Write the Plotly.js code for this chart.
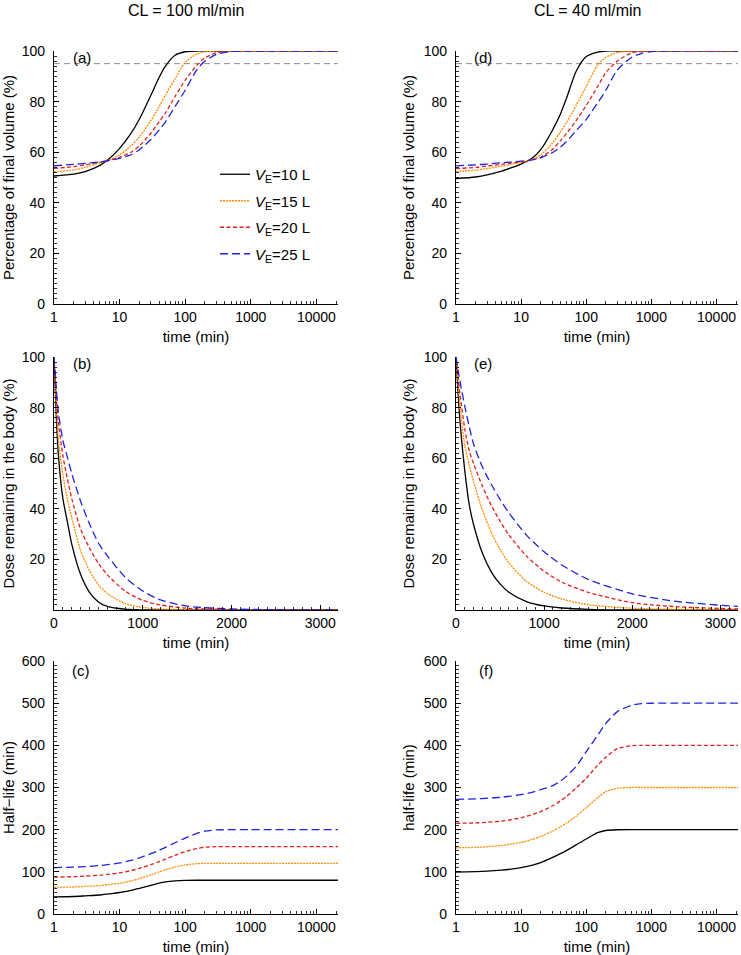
<!DOCTYPE html>
<html><head><meta charset="utf-8">
<script src="https://cdn.plot.ly/plotly-3.0.1.min.js"></script>
<style>html,body{margin:0;padding:0;background:#fff}#chart{width:741px;height:955px}</style>
</head><body><div id="chart"></div>
<script>
// ---------- data ----------
const seriesNames = ['<i>V</i><sub>E</sub>=10 L', '<i>V</i><sub>E</sub>=15 L', '<i>V</i><sub>E</sub>=20 L', '<i>V</i><sub>E</sub>=25 L'];
const columnTitles = ['CL = 100 ml/min', 'CL = 40 ml/min'];
const panelLabels = ['(a)', '(b)', '(c)', '(d)', '(e)', '(f)'];
const threshold = 95;

// time points for log-time panels (min)
const tLog = [1, 2, 3, 5, 7, 10, 15, 20, 30, 40, 50, 70, 100, 150, 200, 300, 500, 700, 1000, 2000, 22000];
// time points for linear-time panels (min)
const tLin = [0, 25, 50, 100, 150, 200, 300, 400, 500, 600, 800, 1000, 1200, 1500, 2000, 2500, 3200];

// (a) CL=100, percentage of final volume
const a_V10 = [50.6, 51.3, 52.3, 54.8, 57.5, 61.5, 67.5, 73, 82.5, 89.5, 94, 98.3, 99.7, 100, 100, 100, 100, 100, 100, 100, 100];
const a_V15 = [52.2, 53, 54, 55.8, 57, 59, 62.5, 66, 72.5, 78, 82.5, 89, 95.5, 98.8, 99.7, 100, 100, 100, 100, 100, 100];
const a_V20 = [53.6, 54.3, 55, 56, 56.8, 58, 60, 62.5, 67.5, 72, 75.5, 82, 88.5, 94.3, 97.3, 99.3, 100, 100, 100, 100, 100];
const a_V25 = [54.6, 55.2, 55.6, 56.2, 56.8, 57.6, 59, 61, 65, 68.7, 72, 78, 84.5, 92.5, 96, 98.7, 99.8, 100, 100, 100, 100];

// (b) CL=100, dose remaining
const b_V10 = [100, 77, 61, 44, 35, 26, 14, 7, 3.2, 1.4, 0.3, 0.05, 0, 0, 0, 0, 0];
const b_V15 = [100, 81, 67, 53.5, 44, 36.5, 23.5, 15.5, 10, 6.5, 2.5, 1, 0.4, 0.1, 0, 0, 0];
const b_V20 = [100, 85, 74, 61, 52, 44, 32, 24.5, 18.5, 14, 7.5, 3.8, 2, 0.7, 0.15, 0, 0];
const b_V25 = [100, 88, 78, 67, 60.5, 54, 43, 34, 26.5, 21.5, 13, 7.5, 4, 1.5, 0.4, 0.1, 0];

// (c) CL=100, half-life
const c_V10 = [40.5, 41.5, 43, 45, 47.5, 51, 56, 61, 68, 73, 76, 78.5, 79.6, 80, 80, 80, 80, 80, 80, 80, 80];
const c_V15 = [63, 64, 65.5, 67.5, 70, 73, 78.5, 84, 93, 100, 105, 111.5, 116.5, 119.3, 120, 120, 120, 120, 120, 120, 120];
const c_V20 = [87.5, 88.5, 90, 92, 94.5, 97.5, 103, 108, 117, 124, 130, 139, 148, 155, 158.3, 159.7, 160, 160, 160, 160, 160];
const c_V25 = [110, 111, 112.5, 115, 117.5, 121, 127, 133, 143, 151, 158, 169, 180, 191, 196.5, 199.3, 200, 200, 200, 200, 200];

// (d) CL=40, percentage of final volume
const d_V10 = [49.6, 50.2, 51, 52.5, 53.8, 55.3, 57.8, 61, 68.5, 75, 81.5, 92, 97.8, 99.6, 100, 100, 100, 100, 100, 100, 100];
const d_V15 = [52.3, 52.9, 53.5, 54.5, 55.2, 56, 57.2, 59, 63.5, 68, 71.8, 78.5, 86, 94.5, 97.5, 99.4, 100, 100, 100, 100, 100];
const d_V20 = [53.5, 54, 54.5, 55.2, 55.7, 56.2, 57, 58, 61, 64.5, 67.5, 72.5, 78.5, 86, 91.5, 96, 99.3, 99.8, 100, 100, 100];
const d_V25 = [54.6, 55, 55.3, 55.8, 56.1, 56.5, 57, 57.8, 59.8, 62, 64.3, 68.5, 73, 79.5, 84.5, 92.5, 97.5, 99, 99.8, 100, 100];

// (e) CL=40, dose remaining
const e_V10 = [100, 85, 72.5, 55, 41.7, 33.7, 22.4, 15.1, 10.3, 7, 3.35, 1.6, 0.8, 0.28, 0.05, 0, 0];
const e_V15 = [100, 88.5, 78.5, 65, 57.3, 50.7, 39.4, 30.7, 23.9, 18.6, 11.3, 7, 4.3, 2.1, 0.7, 0.25, 0.06];
const e_V20 = [100, 91.5, 84, 71.5, 63, 57.8, 48.9, 41.4, 35.1, 29.7, 21.3, 15.3, 11, 7, 2.9, 1.3, 0.4];
const e_V25 = [100, 94.5, 89.5, 80.5, 72.5, 65.5, 56.5, 49.7, 43.7, 38.4, 29.6, 23, 17.8, 12.1, 6.4, 3.4, 1.4];

// (f) CL=40, half-life
const f_V10 = [99.5, 100.5, 101.5, 104, 106.5, 110, 116, 122, 133.5, 143, 151, 164, 178, 193, 198, 199.8, 200, 200, 200, 200, 200];
const f_V15 = [157, 158, 159.5, 162.5, 166, 170, 177, 184, 196, 207, 216, 232, 252, 276, 290, 298, 300, 300, 300, 300, 300];
const f_V20 = [215, 216, 217.5, 220, 223.5, 228, 236, 243, 256, 268, 279, 299, 322, 353, 372, 392, 399, 400, 400, 400, 400];
const f_V25 = [272, 273, 274.5, 277, 279.5, 283, 289, 295, 304, 315, 327, 350, 385, 424, 452, 480, 495, 499, 499.8, 500, 500];

const logTickVals = [1, 10, 100, 1000, 10000];
const logTickText = ['1', '10', '100', '1000', '10000'];

// ---------- styles ----------
const colors = ['#000000', '#FF8C00', '#E0201B', '#2222DD'];
const dashes = ['solid', '2px,1px', '4px,2.5px', '8px,4px'];
const widths = [1.3, 1.3, 1.3, 1.3];
const FONT = 'Liberation Sans, Arial, Helvetica, sans-serif';

const panels = [
  {id: '', x: tLog, ys: [a_V10, a_V15, a_V20, a_V25], legend: true},
  {id: '2', x: tLin, ys: [b_V10, b_V15, b_V20, b_V25]},
  {id: '3', x: tLog, ys: [c_V10, c_V15, c_V20, c_V25]},
  {id: '4', x: tLog, ys: [d_V10, d_V15, d_V20, d_V25]},
  {id: '5', x: tLin, ys: [e_V10, e_V15, e_V20, e_V25]},
  {id: '6', x: tLog, ys: [f_V10, f_V15, f_V20, f_V25]}
];

const traces = [];
panels.forEach(p => {
  p.ys.forEach((y, i) => {
    traces.push({
      type: 'scatter', mode: 'lines', x: p.x, y: y,
      xaxis: 'x' + p.id, yaxis: 'y' + p.id,
      name: seriesNames[i], legendgroup: 'g' + i, showlegend: !!p.legend,
      line: {color: colors[i], dash: dashes[i], width: widths[i], shape: 'spline', smoothing: 0.7},
      hoverinfo: 'skip'
    });
  });
});

// ---------- layout ----------
const W = 741, H = 955;
const colX = [[54, 338], [456, 738]];
const rowY = [[51, 304], [357, 610], [661, 914]];
const px2x = v => v / W;
const px2y = v => 1 - v / H;

const minorLog = [];
for (let d = 1; d <= 10000; d *= 10) for (let k = 2; k <= 9; k++) minorLog.push(d * k);

const base = {
  showline: true, linecolor: '#000', linewidth: 1.2, mirror: false,
  ticks: 'inside', ticklen: 5, tickwidth: 1, tickcolor: '#000',
  showgrid: false, zeroline: false, fixedrange: true,
  tickfont: {family: FONT, size: 14, color: '#000'}
};
const titleFont = {family: FONT, size: 15, color: '#000'};
function logX(dom, anchor) {
  return Object.assign({}, base, {
    type: 'log', range: [0, 4.33], domain: dom, anchor: anchor,
    tickmode: 'array', tickvals: logTickVals, ticktext: logTickText,
    minor: {tickmode: 'array', tickvals: minorLog, ticks: 'inside', ticklen: 3, tickwidth: 0.8, tickcolor: '#000', showgrid: false},
    title: {text: 'time (min)', font: titleFont, standoff: 7}
  });
}
function linX(dom, anchor) {
  return Object.assign({}, base, {
    range: [0, 3200], domain: dom, anchor: anchor,
    tickmode: 'linear', tick0: 0, dtick: 1000,
    minor: {dtick: 100, ticks: 'inside', ticklen: 3, tickwidth: 0.8, tickcolor: '#000', showgrid: false},
    title: {text: 'time (min)', font: titleFont, standoff: 7}
  });
}
function yAx(dom, anchor, range, tickvals, minorD, title) {
  return Object.assign({}, base, {
    range: range, domain: dom, anchor: anchor,
    tickmode: 'array', tickvals: tickvals, ticklabelstandoff: 5,
    minor: {dtick: minorD, ticks: 'inside', ticklen: 2.5, tickwidth: 0.8, tickcolor: '#000', showgrid: false},
    title: {text: title, font: titleFont, standoff: 5}
  });
}
const xd = c => [px2x(colX[c][0]), px2x(colX[c][1])];
const yd = r => [px2y(rowY[r][1]), px2y(rowY[r][0])];

const pctTicks = [0, 20, 40, 60, 80, 100];
const doseTicks = [20, 40, 60, 80, 100];
const hlTicks = [0, 100, 200, 300, 400, 500, 600];

const layout = {
  width: W, height: H, margin: {l: 0, r: 0, t: 0, b: 0},
  paper_bgcolor: '#fff', plot_bgcolor: '#fff',
  font: {family: FONT, size: 14, color: '#000'},
  showlegend: true,
  legend: {x: px2x(215), y: px2y(158), xanchor: 'left', yanchor: 'top', bgcolor: 'rgba(0,0,0,0)',
           font: {family: FONT, size: 15, color: '#000'}, tracegroupgap: 4, traceorder: 'grouped'},
  xaxis: logX(xd(0), 'y'),  yaxis: yAx(yd(0), 'x', [0, 100], pctTicks, 2, 'Percentage of final volume (%)'),
  xaxis2: linX(xd(0), 'y2'), yaxis2: yAx(yd(1), 'x2', [0, 100], doseTicks, 2, 'Dose remaining in the body (%)'),
  xaxis3: logX(xd(0), 'y3'), yaxis3: yAx(yd(2), 'x3', [0, 600], hlTicks, 10, 'Half\u2212life (min)'),
  xaxis4: logX(xd(1), 'y4'), yaxis4: yAx(yd(0), 'x4', [0, 100], pctTicks, 2, 'Percentage of final volume (%)'),
  xaxis5: linX(xd(1), 'y5'), yaxis5: yAx(yd(1), 'x5', [0, 100], doseTicks, 2, 'Dose remaining in the body (%)'),
  xaxis6: logX(xd(1), 'y6'), yaxis6: yAx(yd(2), 'x6', [0, 600], hlTicks, 10, 'half-life (min)'),
  shapes: [
    {type: 'line', xref: 'x domain', yref: 'y', x0: 0, x1: 1, y0: threshold, y1: threshold, line: {color: '#8c8c8c', width: 1, dash: '6px,4px'}, layer: 'below'},
    {type: 'line', xref: 'x4 domain', yref: 'y4', x0: 0, x1: 1, y0: threshold, y1: threshold, line: {color: '#8c8c8c', width: 1, dash: '6px,4px'}, layer: 'below'}
  ],
  annotations: []
};

// column titles
[186, 587].forEach((cx, i) => layout.annotations.push({
  text: columnTitles[i], xref: 'paper', yref: 'paper', x: px2x(cx), y: px2y(10),
  xanchor: 'center', yanchor: 'middle', showarrow: false, font: {family: FONT, size: 16, color: '#000'}
}));
// panel labels
const labelPos = [['', 0.099, 0.976], ['2', 0.099, 0.976], ['3', 0.095, 0.964], ['4', 0.096, 0.976], ['5', 0.096, 0.976], ['6', 0.106, 0.964]];
labelPos.forEach((lp, i) => layout.annotations.push({
  text: panelLabels[i], xref: 'x' + lp[0] + ' domain', yref: 'y' + lp[0] + ' domain', x: lp[1], y: lp[2],
  xanchor: 'center', yanchor: 'middle', showarrow: false, font: {family: FONT, size: 15, color: '#000'}
}));

Plotly.newPlot('chart', traces, layout, {staticPlot: true, displayModeBar: false});
</script>
</body></html>
